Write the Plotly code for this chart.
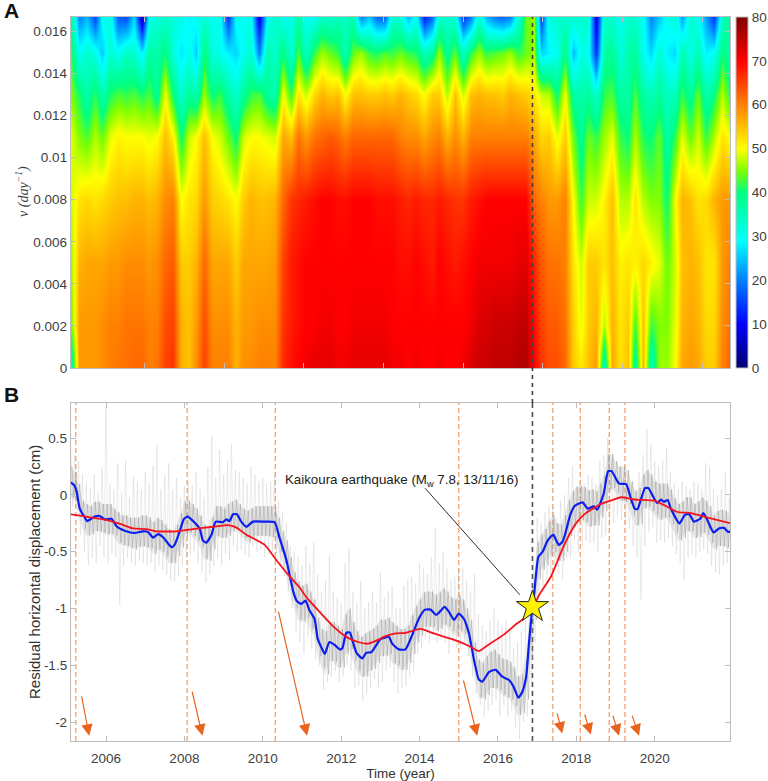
import numpy as np
import plotly.graph_objects as go

# ---- panel A: spectrogram values, one list per frequency
nu_levels = [0, 0.002, 0.005, 0.008, 0.011, 0.013, 0.015, 0.01669]
spec_years = [2005.107 + 0.2 * i for i in range(85)]

z_000 = [34,58,58,58,59,60,61,61,62,62, 60,61,65,66,56,55,59,65,60,60, 60,56,59,59,60,60,60,67,69,70,
         71,72,72,72,71,71,72,72,72,72, 72,71,71,70,71,70,70,71,70,70, 71,73,74,74,75,75,75,76,76,70,
         66,64,64,62,54,52,55,58,34,57, 52,55,36,56,34,46,46,50,57,58, 57,54,54,60,62]
z_002 = [44,58,58,58,59,60,60,61,61,61, 60,60,64,65,56,55,58,64,59,59, 59,56,58,58,59,59,59,66,68,69,
         70,70,71,71,70,70,71,71,71,71, 71,70,70,70,70,70,70,70,70,70, 70,71,73,73,74,74,74,75,75,69,
         65,63,63,61,54,49,54,56,47,56, 52,54,42,55,42,45,45,49,56,57, 56,53,53,59,61]
z_005 = [46,56,57,57,57,58,58,59,59,59, 58,59,62,63,54,54,56,62,57,57, 57,54,57,57,57,57,58,65,68,69,
         70,70,70,70,70,70,70,70,70,70, 70,70,69,69,70,69,68,70,69,68, 69,70,71,71,71,71,71,72,72,67,
         63,61,61,60,52,48,54,54,52,55, 51,52,51,53,51,49,44,48,55,56, 55,52,52,58,60]
z_008 = [48,52,53,52,53,54,55,55,56,56, 55,56,59,60,50,52,53,58,54,53, 52,50,54,56,55,55,56,62,66,67,
         68,69,70,70,69,69,70,70,70,69, 69,69,68,67,68,67,67,68,67,66, 66,68,69,70,70,70,70,70,70,62,
         60,58,58,60,50,42,48,48,51,55, 47,47,52,47,45,45,40,50,56,55, 52,53,56,58,58]
z_011 = [49,45,43,47,44,49,51,50,50,50, 49,50,55,51,40,48,50,55,50,48, 44,40,48,50,50,49,48,57,55,61,
         58,61,62,63,62,60,62,62,62,62, 62,62,60,59,59,57,59,60,56,59, 56,60,60,60,60,60,60,60,60,57,
         53,54,49,54,44,38,44,42,46,49, 42,40,47,41,40,44,37,42,49,44, 48,42,47,52,50]
z_013 = [45,41,36,42,36,41,43,42,43,41, 43,38,50,40,33,38,36,46,40,42, 37,33,38,42,43,38,36,50,42,52,
         48,53,56,54,55,50,55,55,54,54, 55,54,56,54,53,50,54,54,47,55, 48,55,56,55,55,54,56,55,54,52,
         48,47,40,50,37,36,38,33,42,43, 37,37,43,37,35,38,34,35,42,38, 44,36,40,47,42]
z_015 = [42,30,33,31,25,33,30,34,33,28, 37,36,40,32,27,31,25,40,32,30, 28,26,30,33,20,36,33,40,32,43,
         34,42,46,44,42,35,44,46,42,41, 43,42,44,42,41,35,38,46,38,44, 34,42,46,42,43,44,46,42,44,46,
         26,28,30,40,24,31,30,14,37,38, 32,36,38,30,26,33,28,26,36,31, 35,28,30,40,36]
z_017 = [38,20,24,15,30,31,17,16,26,5, 30,32,33,32,31,28,30,32,30,30, 14,30,30,30,8,29,34,30,31,36,
         30,30,34,33,35,34,36,20,25,18, 18,33,32,24,30,12,18,33,33,32, 14,20,33,24,20,18,20,32,44,46,
         15,32,33,33,33,33,33,8,33,33, 30,33,33,30,20,25,30,33,22,33, 30,22,14,34,38]
spec_z = [z_000, z_002, z_005, z_008, z_011, z_013, z_015, z_017]

spec_tick_years = [2006.97, 2009.02, 2011.03, 2013.07, 2015.11, 2017.13, 2019.17, 2021.21]
nu_ticks = [0, 0.002, 0.004, 0.006, 0.008, 0.01, 0.012, 0.014, 0.016]
nu_labels = ['0', '0.002', '0.004', '0.006', '0.008', '0.01', '0.012', '0.014', '0.016']

# rainbow
rainbow = [[0, '#00006E'], [0.125, '#0000FF'], [0.25, '#0080FF'], [0.36, '#00FFFF'], [0.5, '#00FF80'],
           [0.5625, '#80FF00'], [0.625, '#FFFF00'], [0.75, '#FF8000'], [0.875, '#FF0000'], [1, '#7F0000']]

# ---- panel B: displacement curves
blue_t = [2005.1,2005.2,2005.25,2005.33,2005.46,2005.52,2005.71,2005.84,2005.97,2006.14,2006.28,2006.48,2006.73,2006.94,
          2007.07,2007.2,2007.33,2007.45,2007.67,2007.75,2007.88,2007.99,2008.09,2008.22,2008.39,2008.47,2008.56,2008.69,
          2008.8,2008.98,2009.07,2009.15,2009.24,2009.34,2009.45,2009.58,2009.75,2010.0,2010.3,2010.43,2010.6,2010.77,
          2010.86,2010.98,2011.09,2011.19,2011.32,2011.4,2011.49,2011.58,2011.7,2011.83,2011.96,2012.03,2012.13,2012.22,
          2012.3,2012.39,2012.54,2012.64,2012.77,2012.9,2013.0,2013.22,2013.3,2013.47,2013.64,2013.81,2013.98,2014.14,
          2014.28,2014.43,2014.64,2014.75,2014.88,2015.0,2015.13,2015.26,2015.39,2015.51,2015.6,2015.77,2015.94,2016.11,
          2016.28,2016.4,2016.52,2016.62,2016.72,2016.79,2016.87,2016.93,2017.03,2017.14,2017.27,2017.41,2017.55,2017.65,
          2017.73,2017.84,2017.95,2018.16,2018.29,2018.44,2018.53,2018.7,2018.81,2018.9,2019.09,2019.27,2019.39,2019.49,
          2019.56,2019.75,2019.84,2019.96,2020.06,2020.16,2020.23,2020.33,2020.41,2020.63,2020.77,2020.88,2021.0,2021.16,
          2021.24,2021.34,2021.5,2021.64,2021.77,2021.87,2021.95]
blue_v = [0.11,0.08,0.03,-0.12,-0.2,-0.23,-0.19,-0.185,-0.215,-0.21,-0.28,-0.315,-0.335,-0.32,
          -0.325,-0.375,-0.345,-0.37,-0.46,-0.44,-0.32,-0.21,-0.19,-0.23,-0.295,-0.4,-0.42,-0.35,
          -0.235,-0.24,-0.215,-0.23,-0.17,-0.17,-0.235,-0.28,-0.235,-0.235,-0.24,-0.38,-0.57,-0.84,
          -0.93,-0.96,-0.93,-1.015,-1.09,-1.265,-1.34,-1.4,-1.295,-1.32,-1.36,-1.35,-1.215,-1.21,
          -1.295,-1.39,-1.44,-1.39,-1.385,-1.32,-1.27,-1.25,-1.31,-1.36,-1.36,-1.235,-1.09,-1.01,
          -1.01,-1.055,-0.985,-1.03,-1.1,-1.045,-1.09,-1.22,-1.455,-1.625,-1.645,-1.56,-1.54,-1.6,
          -1.63,-1.69,-1.785,-1.735,-1.6,-1.31,-1.015,-0.85,-0.545,-0.5,-0.4,-0.35,-0.44,-0.41,
          -0.325,-0.18,-0.1,-0.065,-0.12,-0.1,-0.13,0.015,0.21,0.21,0.1,0.095,-0.03,-0.12,
          -0.125,0.06,0.06,-0.015,-0.07,-0.04,-0.06,-0.045,-0.12,-0.25,-0.175,-0.17,-0.235,-0.21,
          -0.16,-0.22,-0.33,-0.295,-0.29,-0.325,-0.32]

red_t = [2005.1,2006.0,2006.4,2006.69,2007.03,2007.28,2007.8,2008.22,2008.73,2009.11,2009.32,2009.58,2010.05,2010.35,
         2010.69,2010.94,2011.11,2011.45,2011.79,2012.13,2012.43,2012.68,2012.98,2013.08,2013.39,2013.64,2014.02,2014.36,
         2014.96,2015.26,2015.51,2015.73,2016.15,2016.49,2016.66,2016.98,2017.05,2017.35,2017.69,2017.99,2018.24,2018.63,
         2018.88,2019.14,2019.48,2019.99,2020.24,2020.58,2020.92,2021.35,2021.94]
red_v = [-0.17,-0.22,-0.26,-0.295,-0.3,-0.32,-0.32,-0.3,-0.28,-0.265,-0.285,-0.35,-0.44,-0.575,
         -0.72,-0.815,-0.9,-1.03,-1.155,-1.25,-1.295,-1.31,-1.27,-1.25,-1.22,-1.215,-1.18,-1.22,
         -1.285,-1.33,-1.375,-1.325,-1.23,-1.13,-1.09,-0.93,-0.88,-0.72,-0.44,-0.25,-0.16,-0.08,
         -0.05,-0.02,-0.04,-0.05,-0.09,-0.15,-0.16,-0.2,-0.25]

# raw daily series is only readable as a spread, so keep its extremes per 0.1 yr
noise_t = [2005.1 + 0.1 * i for i in range(169)]
spike_hi = [.42,.35,.30,.18,.10,.06,.18,.02,.24,.78, .10,.05,.28,.02,.30,-.02,.16,.12,.05,.20,
            .10,.26,.44,.05,.18,.28,.05,.15,-.02,.08, .12,.08,.20,.05,-.02,.25,.52,.15,.40,.18,
            .30,.45,.22,.20,.15,.10,.25,.18,.12,.15, .10,.12,.18,-.05,-.15,-.25,-.45,-.50,-.55,-.62,
            -.45,-.60,-.42,-.70,-.85,-.75,-.53,-.85,-.90,-.95, -.60,-.47,-.85,-.95,-.76,-1.0,-.95,-.85,-.95,-.68,
            -.90,-.85,-.80,-1.0,-1.0,-.80,-.75,-.72,-.78,-.60, -.65,-.70,-.55,-.29,-.6,-.5,-.65,-.75,-.72,-.65,
            -.65,-.75,-.85,-.70,-1.05,-1.15,-1.2,-1.1,-1.0,-1.1, -1.15,-1.1,-1.2,-1.35,-1.3,-1.2,-1.1,-.95,-.55,-.2,
            -.25,-.15,-.10,-.1,-.2,-.05,.0,.15,.25,.08, .12,.10,.18,.15,.10,.30,.35,.5,.30,.22,
            .25,.15,.12,.1,.05,.2,.35,.58,.45,.3, .25,.30,.41,.20,.10,.05,.12,.08,.05,.12,
            .10,.05,.28,.25,.05,.0,.05,.20,-.02]
spike_lo = [-.10,-.05,-.35,-.50,-.62,-.55,-.60,-.45,-.55,-.60, -.52,-.55,-.97,-.62,-.55,-.60,-.62,-.58,-.60,-.62,
            -.60,-.68,-.62,-.66,-.70,-.75,-.76,-.72,-.62,-.55, -.52,-.50,-.60,-.68,-.77,-.70,-.62,-.55,-.62,-.52,
            -.58,-.45,-.50,-.48,-.52,-.55,-.45,-.50,-.48,-.55, -.52,-.50,-.52,-.62,-.72,-.85,-1.0,-1.2,-1.3,-1.4,
            -1.25,-1.35,-1.45,-1.5,-1.72,-1.65,-1.6,-1.55,-1.65,-1.6, -1.5,-1.55,-1.7,-1.68,-1.81,-1.75,-1.7,-1.62,-1.7,-1.65,
            -1.55,-1.52,-1.65,-1.75,-1.7,-1.68,-1.6,-1.55,-1.4,-1.35, -1.25,-1.3,-1.22,-1.3,-1.25,-1.3,-1.4,-1.3,-1.35,-1.35,
            -1.3,-1.42,-1.6,-1.75,-1.85,-1.95,-1.9,-1.85,-1.8,-1.95, -1.85,-1.95,-1.9,-2.05,-2.15,-2.0,-1.95,-1.65,-1.3,-.95,
            -.85,-.78,-.70,-.62,-.70,-.75,-.55,-.55,-.40,-.50, -.45,-.40,-.42,-.42,-.50,-.38,-.35,-.28,-.25,-.18,
            -.22,-.25,-.30,-.45,-.55,-.92,-.45,-.32,-.28,-.42, -.40,-.42,-.38,-.45,-.52,-.60,-.75,-.55,-.52,-.55,
            -.50,-.48,-.52,-.62,-.68,-.70,-.62,-.60,-.65]
core_hi = [.25,.20,.10,-.05,-.08,-.10,-.06,-.06,-.08,-.08, -.08,-.12,-.15,-.18,-.18,-.2,-.2,-.2,-.18,-.18,
           -.2,-.24,-.2,-.22,-.26,-.3,-.32,-.26,-.16,-.06, -.05,-.08,-.12,-.18,-.26,-.28,-.2,-.1,-.1,-.12,
           -.08,-.06,-.04,-.08,-.12,-.14,-.12,-.1,-.1,-.1, -.1,-.1,-.1,-.2,-.32,-.4,-.55,-.68,-.76,-.8,
           -.78,-.85,-.92,-1.08,-1.18,-1.2,-1.12,-1.12,-1.15,-1.18, -1.05,-1.0,-1.12,-1.2,-1.25,-1.22,-1.2,-1.18,-1.15,-1.1,
           -1.1,-1.08,-1.12,-1.15,-1.18,-1.18,-1.15,-1.06,-.98,-.92, -.86,-.85,-.85,-.88,-.86,-.82,-.85,-.9,-.92,-.88,
           -.92,-1.0,-1.1,-1.3,-1.45,-1.48,-1.42,-1.38,-1.36,-1.4, -1.44,-1.45,-1.47,-1.52,-1.6,-1.58,-1.45,-1.1,-.78,-.42,
           -.35,-.3,-.23,-.18,-.25,-.26,-.18,-.05,.03,.07, .08,.07,.04,.05,.03,.1,.17,.36,.36,.3,
           .25,.25,.22,.12,.03,.06,.18,.22,.18,.12, .1,.1,.1,.05,-.03,-.08,-.06,-.02,-.02,-.08,
           -.06,-.02,-.05,-.1,-.18,-.14,-.13,-.14,-.16]
core_lo = [-.02,-.05,-.18,-.3,-.36,-.35,-.32,-.32,-.33,-.35, -.34,-.36,-.42,-.44,-.45,-.46,-.48,-.46,-.45,-.46,
           -.47,-.52,-.48,-.5,-.54,-.6,-.6,-.54,-.46,-.36, -.33,-.36,-.4,-.46,-.56,-.58,-.48,-.36,-.38,-.38,
           -.36,-.32,-.3,-.34,-.38,-.42,-.38,-.36,-.36,-.36, -.36,-.37,-.38,-.5,-.6,-.72,-.88,-1.0,-1.1,-1.12,
           -1.08,-1.18,-1.24,-1.42,-1.52,-1.58,-1.46,-1.47,-1.52,-1.52, -1.4,-1.36,-1.46,-1.55,-1.6,-1.6,-1.55,-1.53,-1.48,-1.42,
           -1.42,-1.4,-1.48,-1.5,-1.54,-1.54,-1.48,-1.4,-1.3,-1.24, -1.16,-1.16,-1.16,-1.2,-1.18,-1.14,-1.16,-1.2,-1.24,-1.2,
           -1.22,-1.3,-1.44,-1.6,-1.78,-1.8,-1.76,-1.7,-1.7,-1.72, -1.76,-1.78,-1.8,-1.86,-1.94,-1.92,-1.8,-1.45,-1.1,-.74,
           -.66,-.62,-.54,-.5,-.58,-.58,-.5,-.36,-.28,-.24, -.22,-.24,-.28,-.27,-.27,-.2,-.14,.04,.06,.02,
           -.05,-.06,-.08,-.18,-.27,-.26,-.12,-.1,-.14,-.18, -.22,-.2,-.2,-.26,-.33,-.4,-.38,-.32,-.32,-.38,
           -.37,-.33,-.35,-.42,-.48,-.45,-.45,-.46,-.48]

# events
quake_year = 2016.88
quake_disp = -0.985
slip_years = [2005.23, 2008.07, 2010.32, 2015.0, 2017.4, 2018.1, 2018.84, 2019.24]
arrow_x0 = [2005.37, 2008.19, 2010.39, 2015.11, 2017.5, 2018.2, 2018.92, 2019.41]
arrow_y0 = [-1.76, -1.72, -1.015, -1.62, -1.91, -1.92, -1.93, -1.93]
arrow_x1 = [2005.57, 2008.46, 2011.13, 2015.47, 2017.64, 2018.37, 2019.09, 2019.6]
arrow_y1 = [-2.12, -2.12, -2.12, -2.12, -2.1, -2.11, -2.12, -2.12]
leader_x = [2014.14, 2016.56]
leader_y = [0.06, -0.88]

year_ticks = [2006, 2008, 2010, 2012, 2014, 2016, 2018, 2020]
disp_ticks = [0.5, 0, -0.5, -1, -1.5, -2]
disp_labels = ['0.5', '0', '-0.5', '-1', '-1.5', '-2']

W, H = 768, 781
AX_GREY = '#bdbdbd'
TXT = '#404040'
FONT = 'Liberation Sans'
x_range = [2005.107, 2021.92]

fig = go.Figure()

fig.add_trace(go.Heatmap(x=spec_years, y=nu_levels, z=spec_z, zmin=0, zmax=80, zsmooth='best', colorscale=rainbow,
                         xaxis='x', yaxis='y',
                         colorbar=dict(x=736 / W, xanchor='left', xpad=0, ypad=0, thickness=12, thicknessmode='pixels',
                                       y=1 - 368 / H, yanchor='bottom', len=351 / H, lenmode='fraction',
                                       tickvals=list(range(0, 81, 10)), ticks='', outlinecolor=AX_GREY, outlinewidth=1,
                                       tickfont=dict(size=13.5, color=TXT, family=FONT))))

# spread of the raw series: soft band, light spikes, then the darker core
spike_x, spike_y, core_x, core_y = [], [], [], []
for t, hi, lo, chi, clo in zip(noise_t, spike_hi, spike_lo, core_hi, core_lo):
    spike_x += [t, t + 0.05]
    spike_y += [hi, lo]
    core_x += [t + 0.03, t + 0.08]
    core_y += [chi, clo]
fig.add_trace(go.Scatter(x=noise_t + noise_t[::-1], y=core_hi + core_lo[::-1], mode='lines', xaxis='x2', yaxis='y2',
                         showlegend=False, fill='toself', fillcolor='rgba(170,170,170,0.25)', line=dict(width=0)))
fig.add_trace(go.Scatter(x=spike_x, y=spike_y, mode='lines', xaxis='x2', yaxis='y2', showlegend=False,
                         line=dict(color='rgba(170,170,170,0.3)', width=0.7)))
fig.add_trace(go.Scatter(x=core_x, y=core_y, mode='lines', xaxis='x2', yaxis='y2', showlegend=False,
                         line=dict(color='rgba(150,150,150,0.55)', width=0.8)))
fig.add_trace(go.Scatter(x=leader_x, y=leader_y, mode='lines', xaxis='x2', yaxis='y2', showlegend=False,
                         line=dict(color='#303030', width=1)))
fig.add_trace(go.Scatter(x=blue_t, y=blue_v, mode='lines', xaxis='x2', yaxis='y2', showlegend=False,
                         line=dict(color='#0A1EF0', width=2.2, shape='spline', smoothing=0.5)))
fig.add_trace(go.Scatter(x=red_t, y=red_v, mode='lines', xaxis='x2', yaxis='y2', showlegend=False,
                         line=dict(color='#F5141E', width=1.8, shape='spline', smoothing=0.5)))
fig.add_trace(go.Scatter(x=[quake_year], y=[quake_disp], mode='markers', xaxis='x2', yaxis='y2', showlegend=False,
                         marker=dict(symbol='star', size=24, color='#FFF200', line=dict(color='#202020', width=1))))

# quake line runs through the gap between the panels
shapes = [dict(type='line', xref='x', yref='paper', x0=quake_year, x1=quake_year, y0=1 - 403 / H, y1=1 - 17 / H,
               line=dict(color='#404040', width=1.6, dash='4px,4px')),
          dict(type='line', xref='x2', yref='y2', x0=quake_year, x1=quake_year, y0=-2.167, y1=0.81, layer='below',
               line=dict(color='#505050', width=1.6, dash='5px,4px'))]
for yr in slip_years:
    shapes.append(dict(type='line', xref='x2', yref='y2', x0=yr, x1=yr, y0=-2.167, y1=0.81, layer='below',
                       line=dict(color='#F5A673', width=1.4, dash='5px,3px')))

annotations = [dict(text='<b>A</b>', xref='paper', yref='paper', x=2 / W, y=1 - 11 / H, xanchor='left', yanchor='middle',
                    showarrow=False, font=dict(size=21, color='#111111', family=FONT)),
               dict(text='<b>B</b>', xref='paper', yref='paper', x=2 / W, y=1 - 394 / H, xanchor='left', yanchor='middle',
                    showarrow=False, font=dict(size=21, color='#111111', family=FONT)),
               dict(text='Kaikoura earthquake (M<sub>w</sub> 7.8, 13/11/16)', xref='x2', yref='y2', x=2013.53, y=0.13,
                    showarrow=False, font=dict(size=13.3, color='#202020', family=FONT)),
               dict(text='<i>ν (day<sup>−1</sup>)</i>', xref='paper', yref='paper', x=23 / W, y=1 - 192 / H, textangle=-90,
                    xanchor='center', yanchor='middle', showarrow=False,
                    font=dict(size=14, color=TXT, family='Liberation Serif')),
               dict(text='Residual horizontal displacement (cm)', xref='paper', yref='paper', x=34 / W, y=1 - 572 / H,
                    textangle=-90, xanchor='center', yanchor='middle', showarrow=False,
                    font=dict(size=15, color='#303030', family=FONT))]
for x0, y0, x1, y1 in zip(arrow_x0, arrow_y0, arrow_x1, arrow_y1):
    annotations.append(dict(x=x1, y=y1, ax=x0, ay=y0, xref='x2', yref='y2', axref='x2', ayref='y2', text='',
                            showarrow=True, arrowhead=2, arrowsize=1.9, arrowwidth=1.2, arrowcolor='#E8641E'))

tick_style = dict(ticks='inside', ticklen=5, tickcolor=AX_GREY, tickwidth=1, showline=True, linecolor=AX_GREY,
                  linewidth=1.3, mirror='ticks', showgrid=False, zeroline=False, automargin=False,
                  tickfont=dict(size=13.5, color=TXT, family=FONT))

fig.update_layout(
    width=W, height=H, margin=dict(l=0, r=0, t=0, b=0, autoexpand=False), paper_bgcolor='white', plot_bgcolor='white',
    shapes=shapes, annotations=annotations, showlegend=False,
    xaxis=dict(domain=[71 / W, 730 / W], range=x_range, tickvals=spec_tick_years, showticklabels=False, anchor='y', **tick_style),
    yaxis=dict(domain=[1 - 368 / H, 1 - 17 / H], range=[0, 0.01669], tickvals=nu_ticks, ticktext=nu_labels, anchor='x', **tick_style),
    xaxis2=dict(domain=[71 / W, 730 / W], range=x_range, tickvals=year_ticks, anchor='y2', ticklabelstandoff=5,
                title=dict(text='Time (year)', font=dict(size=13.5, color='#303030', family=FONT)), **tick_style),
    yaxis2=dict(domain=[1 - 741 / H, 1 - 403 / H], range=[-2.167, 0.81], tickvals=disp_ticks, ticktext=disp_labels, anchor='x2',
                **tick_style),
)

# plotly's page keeps the browser's default body margin
fig.write_html("out.html", post_script="document.body.style.margin='0';", config={'displayModeBar': False})
